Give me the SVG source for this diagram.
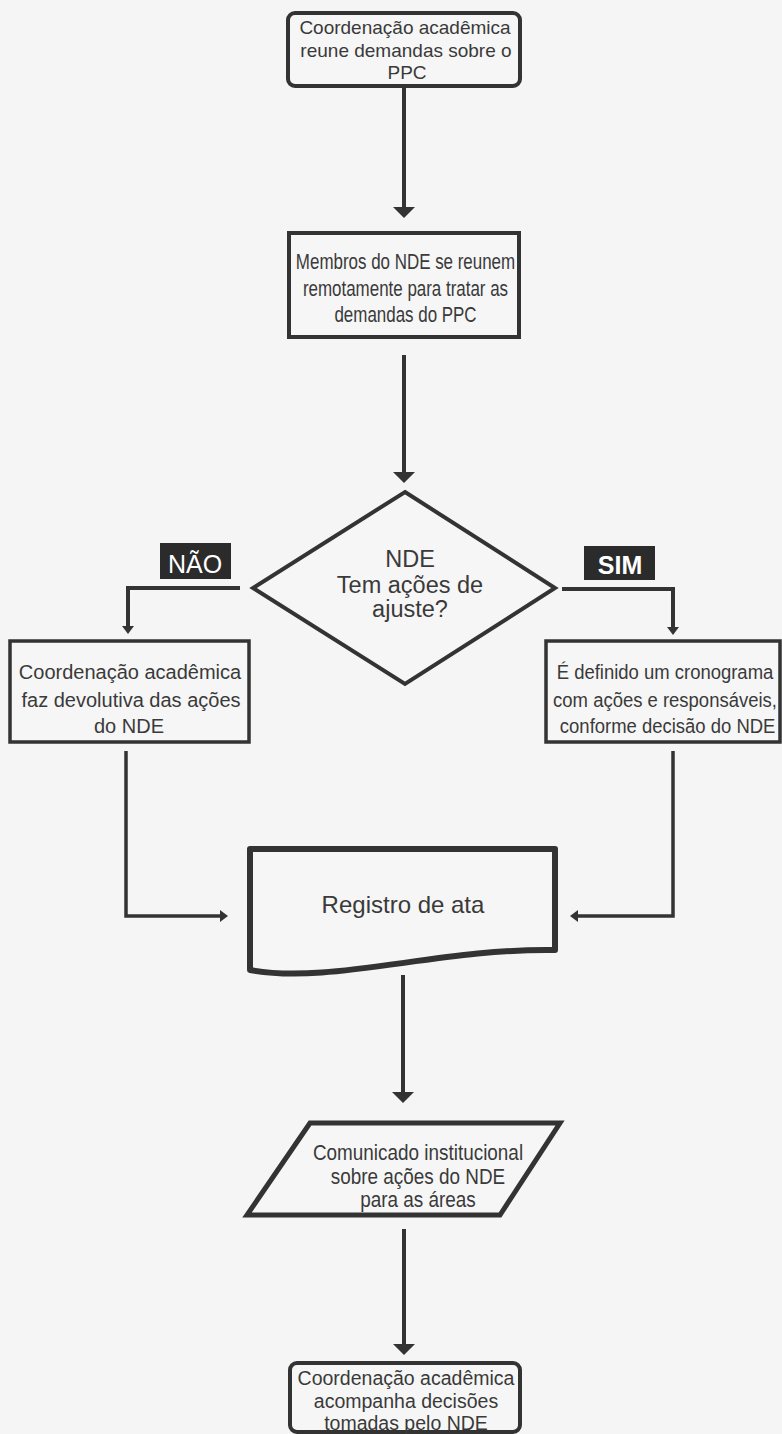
<svg xmlns="http://www.w3.org/2000/svg" width="782" height="1434" viewBox="0 0 782 1434">
<defs>
<style>
.shape{fill:#f6f6f6;stroke:#333;stroke-width:4;stroke-linejoin:miter}
.t{font-family:"Liberation Sans",Arial,sans-serif;fill:#3a3a3a;text-anchor:middle}
.lab{font-family:"Liberation Sans",Arial,sans-serif;fill:#ffffff;text-anchor:middle;font-size:25px}
.con{fill:none;stroke:#333;stroke-width:4;stroke-linejoin:miter}
.thin{fill:none;stroke:#333;stroke-width:3.5;stroke-linejoin:miter}
</style>
<marker id="ah" viewBox="0 0 11 22" refX="3" refY="11" markerWidth="11" markerHeight="22" markerUnits="userSpaceOnUse" orient="auto"><path d="M0,0 L11,11 L0,22 z" fill="#333"/></marker>
<marker id="as" viewBox="0 0 8 12" refX="2" refY="6" markerWidth="8" markerHeight="12" markerUnits="userSpaceOnUse" orient="auto"><path d="M0,0 L8,6 L0,12 z" fill="#333"/></marker>
</defs>
<rect x="0" y="0" width="782" height="1434" fill="#f5f5f5"/>

<g id="connectors">
<path class="con" d="M404,88 V210" marker-end="url(#ah)"/>
<path class="con" d="M404,355 V475" marker-end="url(#ah)"/>
<path class="con" d="M240,588 H128 V628" marker-end="url(#as)"/>
<path class="con" d="M562,589 H673 V629" marker-end="url(#as)"/>
<path class="thin" d="M126,751 V916 H222" marker-end="url(#as)"/>
<path class="thin" d="M673,751 V916 H576" marker-end="url(#as)"/>
<path class="con" d="M403,975 V1095" marker-end="url(#ah)"/>
<path class="con" d="M404,1229 V1347" marker-end="url(#ah)"/>
</g>

<g id="n1">
<rect class="shape" x="288" y="13" width="232" height="73" rx="7"/>
<text class="t" font-size="19" x="405" y="34">Coordenação acadêmica</text>
<text class="t" font-size="19" x="406" y="57">reune demandas sobre o</text>
<text class="t" font-size="19" x="407" y="79">PPC</text>
</g>

<g id="n2">
<rect class="shape" x="289" y="233" width="230" height="104"/>
<g transform="translate(405.5 0) scale(0.77 1)">
<text class="t" font-size="22" x="0" y="269">Membros do NDE se reunem</text>
<text class="t" font-size="22" x="0" y="296">remotamente para tratar as</text>
<text class="t" font-size="22" x="0" y="322">demandas do PPC</text>
</g>
</g>

<g id="n3">
<polygon class="shape" points="405,492 555,588 405,684 253,588"/>
<text class="t" font-size="23.5" x="410" y="567">NDE</text>
<text class="t" font-size="23.5" x="410" y="593">Tem ações de</text>
<text class="t" font-size="23.5" x="410" y="617">ajuste?</text>
</g>

<g id="label-nao">
<rect x="160" y="543" width="71" height="36" fill="#2b2b2b"/>
<text class="lab" x="195" y="573">NÃO</text>
</g>

<g id="label-sim">
<rect x="584" y="546" width="71" height="34" fill="#2b2b2b"/>
<text class="lab" font-weight="bold" x="620" y="574">SIM</text>
</g>

<g id="n4">
<rect class="shape" style="stroke-width:3.5" x="10" y="641" width="239" height="101"/>
<text class="t" font-size="20" x="130" y="679">Coordenação acadêmica</text>
<text class="t" font-size="20" x="131" y="707">faz devolutiva das ações</text>
<text class="t" font-size="20" x="129" y="733">do NDE</text>
</g>

<g id="n5">
<rect class="shape" style="stroke-width:3.5" x="546" y="641" width="234" height="101"/>
<g transform="translate(665 0) scale(0.88 1)">
<text class="t" font-size="21" x="0" y="679">É definido um cronograma</text>
<text class="t" font-size="21" x="0" y="707">com ações e responsáveis,</text>
<text class="t" font-size="21" x="3" y="733">conforme decisão do NDE</text>
</g>
</g>

<g id="n6">
<path class="shape" style="stroke-width:6;stroke-linejoin:round" d="M250,849 H555 V950 C440,948 330,985 250,970 Z"/>
<text class="t" font-size="24" x="403" y="913">Registro de ata</text>
</g>

<g id="n7">
<polygon class="shape" style="stroke-width:5" points="310,1123 560,1123 500,1215 247,1215"/>
<g transform="translate(418 0) scale(0.86 1)">
<text class="t" font-size="22" x="0" y="1160">Comunicado institucional</text>
<text class="t" font-size="22" x="0" y="1184">sobre ações do NDE</text>
<text class="t" font-size="22" x="0" y="1207">para as áreas</text>
</g>
</g>

<g id="n8">
<rect class="shape" x="290" y="1363" width="230" height="69" rx="7"/>
<text class="t" font-size="19.5" x="406" y="1385">Coordenação acadêmica</text>
<text class="t" font-size="19.5" x="406" y="1408">acompanha decisões</text>
<text class="t" font-size="19.5" x="406" y="1430">tomadas pelo NDE</text>
</g>
</svg>
